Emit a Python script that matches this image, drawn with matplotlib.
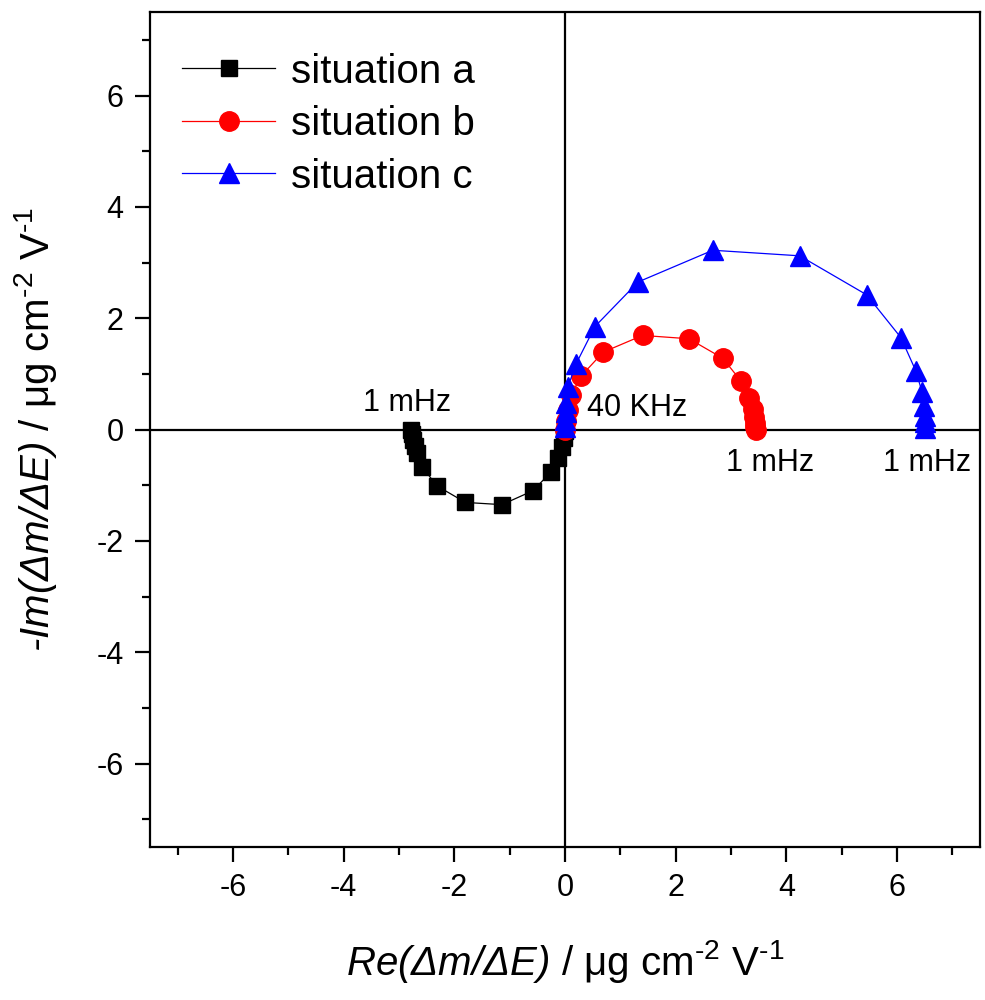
import matplotlib
matplotlib.use('Agg')
import matplotlib.pyplot as plt
from matplotlib.ticker import MultipleLocator

plt.rcParams['font.family'] = ['Liberation Sans', 'DejaVu Sans']
plt.rcParams['mathtext.fontset'] = 'custom'
plt.rcParams['mathtext.rm'] = 'Liberation Sans'
plt.rcParams['mathtext.it'] = 'Liberation Sans:italic'
# bf slot used for fully italic text (parentheses and capital Greek included)
plt.rcParams['mathtext.bf'] = 'Liberation Sans:italic'
plt.rcParams['axes.unicode_minus'] = False

# Situation a (black squares), 1 mHz end -> high frequency end
a_re = [-2.78, -2.77, -2.75, -2.72, -2.68, -2.58, -2.32, -1.80, -1.14, -0.58, -0.26, -0.13, -0.06, -0.02, 0.0]
a_im = [0.00, -0.08, -0.18, -0.30, -0.42, -0.67, -1.01, -1.31, -1.35, -1.10, -0.77, -0.52, -0.32, -0.15, -0.03]

# Situation b (red circles)
b_re = [0.0, 0.02, 0.05, 0.11, 0.29, 0.69, 1.40, 2.24, 2.85, 3.18, 3.33, 3.39, 3.42, 3.43, 3.44, 3.45]
b_im = [0.0, 0.15, 0.35, 0.62, 0.96, 1.39, 1.69, 1.63, 1.28, 0.87, 0.57, 0.36, 0.22, 0.12, 0.05, 0.0]

# Situation c (blue triangles)
c_re = [0.0, 0.0, 0.01, 0.02, 0.05, 0.20, 0.54, 1.32, 2.67, 4.24, 5.45, 6.07, 6.34, 6.45, 6.48, 6.50, 6.50, 6.50]
c_im = [0.05, 0.17, 0.32, 0.48, 0.76, 1.18, 1.85, 2.65, 3.22, 3.12, 2.42, 1.65, 1.05, 0.68, 0.42, 0.25, 0.13, 0.03]

fig = plt.figure(figsize=(9.85, 10), dpi=100)
ax = fig.add_axes([0.1523, 0.153, 0.8427, 0.835])

# axes through origin
ax.axhline(0, color='black', lw=1.6, zorder=1)
ax.axvline(0, color='black', lw=1.6, zorder=1)

ax.plot(a_re, a_im, color='black', marker='s', ms=12, lw=0.9, label='situation a', zorder=3)
ax.plot(b_re, b_im, color='red', marker='o', ms=14, lw=0.9, label='situation b', zorder=3)
ax.plot(c_re, c_im, color='blue', marker='^', ms=15, lw=0.9, label='situation c', zorder=4)

# frequency labels
ax.text(-2.85, 0.48, '1 mHz', fontsize=22, ha='center', va='center')
ax.text(1.3, 0.38, '40 KHz', fontsize=22, ha='center', va='center')
ax.text(3.7, -0.6, '1 mHz', fontsize=22, ha='center', va='center')
ax.text(6.55, -0.6, '1 mHz', fontsize=22, ha='center', va='center')

ax.set_xlim(-7.5, 7.5)
ax.set_ylim(-7.5, 7.5)
ax.xaxis.set_major_locator(MultipleLocator(2))
ax.xaxis.set_minor_locator(MultipleLocator(1))
ax.yaxis.set_major_locator(MultipleLocator(2))
ax.yaxis.set_minor_locator(MultipleLocator(1))
ax.tick_params(which='major', direction='out', length=11, width=1.6, labelsize=22, pad=8)
ax.tick_params(which='minor', direction='out', length=6, width=1.6)
for s in ax.spines.values():
    s.set_linewidth(1.6)

ax.set_xlabel(r'$\mathbf{Re(Δm/ΔE)}$ / μg cm$^{\text{-}2}$ V$^{\text{-}1}$', fontsize=29, labelpad=25)
ax.set_ylabel(r'$\mathbf{‐Im(Δm/ΔE)}$ / μg cm$^{\text{-}2}$ V$^{\text{-}1}$', fontsize=29, labelpad=27)

ax.legend(loc='upper left', frameon=False, fontsize=29, handlelength=2.3,
          handletextpad=0.4, labelspacing=0.36, borderaxespad=0.4, bbox_to_anchor=(0.0, 0.99))

fig.savefig('out.png', dpi=100)
